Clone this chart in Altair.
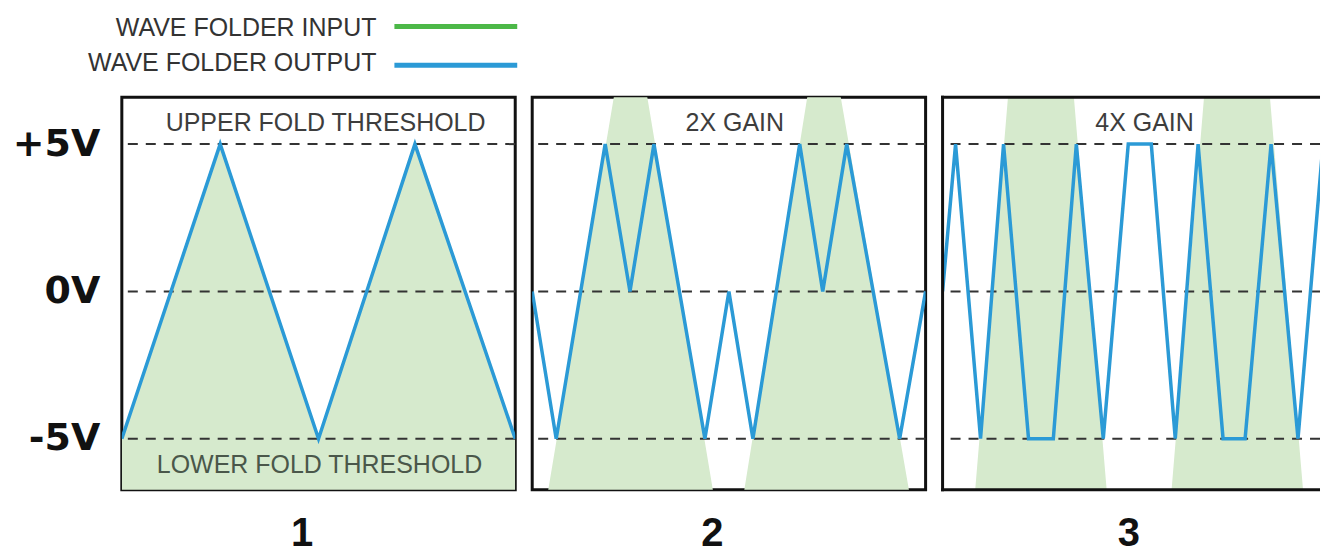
import altair as alt
import pandas as pd

# ---- data (x in cycles: each panel spans two cycles of the input) ----
levels = [5, 0, -5]
level_labels = ["+5V", "0V", "-5V"]

p1_in_x = [0.0, 0.5, 1.0, 1.49, 2.0]
p1_in_v = [-5, 5, -5, 5, -5]
p1_out_x = [0.0, 0.5, 1.0, 1.49, 2.0]
p1_out_v = [-5, 5, -5, 5, -5]

p2_in_x = [0.0, 0.5, 1.0, 1.48, 2.0]
p2_in_v = [-10, 10, -10, 10, -10]
p2_out_x = [0.0, 0.122, 0.371, 0.497, 0.619, 0.878, 1.0, 1.122, 1.36, 1.477, 1.599, 1.868, 2.0]
p2_out_v = [0, -5, 5, 0, 5, -5, 0, -5, 5, 0, 5, -5, 0]

p3_in_x = [0.0, 0.5, 1.0, 1.495, 2.0]
p3_in_v = [-20, 20, -20, 20, -20]
p3_out_x = [0.0, 0.066, 0.193, 0.31, 0.437, 0.563, 0.68, 0.817, 0.944, 1.061,
            1.183, 1.299, 1.426, 1.538, 1.67, 1.807, 1.934, 2.0]
p3_out_v = [0, 5, -5, 5, -5, -5, 5, -5, 5, 5, -5, 5, -5, -5, 5, -5, 5, 0]

panel_numbers = ["1", "2", "3"]
legend_labels = ["WAVE FOLDER INPUT", "WAVE FOLDER OUTPUT"]
legend_colors = ["#4cb848", "#2b9ad6"]

p1_notes = pd.DataFrame({"t": [1.036, 1.005], "v": [5.73, -5.88],
                         "label": ["UPPER FOLD THRESHOLD", "LOWER FOLD THRESHOLD"],
                         "col": ["#3d3d3d", "#4a574a"]})
p2_notes = pd.DataFrame({"t": [1.03], "v": [5.7], "label": ["2X GAIN"], "col": ["#3d3d3d"]})
p3_notes = pd.DataFrame({"t": [1.027], "v": [5.7], "label": ["4X GAIN"], "col": ["#3d3d3d"]})

GREEN_FILL = "#d6eacd"
BLUE = "#2b9ad6"
BORDER = "#111111"
W, H = 394, 393
W3 = 378                      # third panel is cut off by the right edge of the picture
Y_DOMAIN = [-6.73, 6.59]

label_expr = " : ".join(
    [f"datum.value == {v} ? '{l}'" for v, l in zip(levels, level_labels)] + ["''"]
)


def panel(in_x, in_v, out_x, out_v, number, title_x, notes, show_y,
          legend=False, width=W, cut=False):
    x_max = 2.0 * width / W
    xs = alt.Scale(domain=[0, x_max], nice=False, zero=False)
    ys = alt.Scale(domain=Y_DOMAIN, nice=False, zero=False)
    xaxis = alt.Axis(labels=False, ticks=False, domain=False, grid=False,
                     title=number, titleFont="Liberation Sans", titleFontSize=40,
                     titleFontWeight="bold", titleColor="#111111", titleX=title_x,
                     titleY=56, titleBaseline="alphabetic", titleAlign="center")
    if show_y:
        yaxis = alt.Axis(values=levels, labelExpr=label_expr, ticks=False, domain=False,
                         grid=False, title=None, labelFont="DejaVu Sans",
                         labelFontWeight="bold", labelFontSize=38, labelColor="#111111",
                         labelPadding=22, labelBaseline="middle")
    else:
        yaxis = None

    def X(f):
        return alt.X(f, scale=xs, axis=xaxis)

    def Y(f):
        return alt.Y(f, scale=ys, axis=yaxis)

    df_in = pd.DataFrame({"t": in_x, "v": in_v})
    df_out = pd.DataFrame({"t": out_x, "v": out_v})
    df_lv = pd.DataFrame({"level": levels})

    area = alt.Chart(df_in).mark_area(color=GREEN_FILL, clip=True).encode(
        x=X("t:Q"), y=Y("v:Q"), y2=alt.datum(-40))
    rules = alt.Chart(df_lv).mark_rule(color="#333333", strokeWidth=2,
                                       strokeDash=[10, 8]).encode(y=Y("level:Q"))
    line = alt.Chart(df_out).mark_line(color=BLUE, strokeWidth=3.5, clip=True).encode(
        x=X("t:Q"), y=Y("v:Q"))
    txt = alt.Chart(notes).mark_text(font="Liberation Sans", fontSize=25).encode(
        x=X("t:Q"), y=Y("v:Q"), text="label:N", color=alt.Color("col:N", scale=None))
    layers = [area, rules, line, txt]
    if legend:
        ty = [-69.5, -34.5]
        ly = [-71, -32]
        for i, lab in enumerate(legend_labels):
            d = pd.DataFrame({"label": [lab]})
            layers.append(alt.Chart(d).mark_text(
                font="Liberation Sans", fontSize=25, align="right", baseline="middle",
                color="#333333").encode(text="label:N", x=alt.value(255), y=alt.value(ty[i])))
            layers.append(alt.Chart(d).mark_rule(color=legend_colors[i], strokeWidth=5).encode(
                x=alt.value(273), x2=alt.value(396), y=alt.value(ly[i])))
    props = dict(width=width, height=H)
    if cut:
        # open-ended frame: top, left and bottom edges only
        d = pd.DataFrame({"edge": ["frame"]})
        layers.append(alt.Chart(d).mark_rule(color=BORDER, strokeWidth=3).encode(
            x=alt.value(0), y=alt.value(-1.5), y2=alt.value(H + 1.5)))
        layers.append(alt.Chart(d).mark_rule(color=BORDER, strokeWidth=3).encode(
            x=alt.value(-1.5), x2=alt.value(width), y=alt.value(0)))
        layers.append(alt.Chart(d).mark_rule(color=BORDER, strokeWidth=3).encode(
            x=alt.value(-1.5), x2=alt.value(width), y=alt.value(H)))
        props["view"] = alt.ViewBackground(stroke="transparent")
    return alt.layer(*layers).properties(**props)


p1 = panel(p1_in_x, p1_in_v, p1_out_x, p1_out_v, panel_numbers[0], 180, p1_notes, True, legend=True)
p2 = panel(p2_in_x, p2_in_v, p2_out_x, p2_out_v, panel_numbers[1], 180, p2_notes, False)
p3 = panel(p3_in_x, p3_in_v, p3_out_x, p3_out_v, panel_numbers[2], 186, p3_notes, False,
           width=W3, cut=True)

chart = alt.hconcat(p1, p2, p3, spacing=17, bounds="flush").properties(
    padding={"left": 2, "top": 6, "right": 0, "bottom": 0},
    background="white",
).configure_view(stroke=BORDER, strokeWidth=3)

chart.save("out.html", embed_options={"renderer": "svg", "actions": False})
